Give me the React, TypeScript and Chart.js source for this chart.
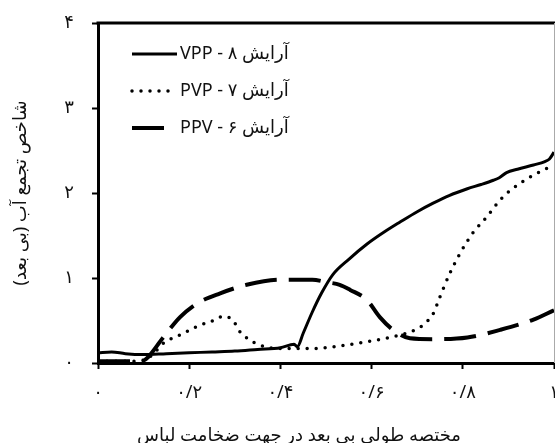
import React, { useEffect, useRef } from "react";
import { Chart, registerables } from "chart.js";

Chart.register(...registerables);

// ---- data ----
const vppX = [0, 0.03, 0.06, 0.1, 0.15, 0.2, 0.25, 0.3, 0.35, 0.4, 0.43, 0.437, 0.45, 0.47, 0.49, 0.515, 0.55, 0.59, 0.63, 0.66, 0.7, 0.735, 0.77, 0.81, 0.84, 0.867, 0.88, 0.896, 0.92, 0.955, 0.98, 0.99, 1.0];
const vppY = [0.12, 0.13, 0.11, 0.1, 0.11, 0.12, 0.13, 0.14, 0.16, 0.18, 0.22, 0.19, 0.35, 0.6, 0.82, 1.04, 1.22, 1.4, 1.55, 1.65, 1.78, 1.88, 1.97, 2.05, 2.1, 2.15, 2.18, 2.24, 2.28, 2.33, 2.37, 2.4, 2.48];

const pvpX = [0, 0.05, 0.1, 0.12, 0.143, 0.18, 0.217, 0.253, 0.275, 0.296, 0.311, 0.333, 0.355, 0.4, 0.47, 0.515, 0.59, 0.662, 0.7, 0.72, 0.735, 0.75, 0.772, 0.794, 0.822, 0.853, 0.882, 0.919, 0.955, 1.0];
const pvpY = [0.02, 0.02, 0.03, 0.1, 0.23, 0.33, 0.43, 0.5, 0.55, 0.5, 0.37, 0.27, 0.21, 0.17, 0.17, 0.19, 0.25, 0.33, 0.4, 0.48, 0.58, 0.78, 1.06, 1.29, 1.53, 1.72, 1.92, 2.09, 2.21, 2.33];

const ppvX = [0, 0.05, 0.1, 0.11, 0.143, 0.18, 0.217, 0.268, 0.326, 0.4, 0.47, 0.502, 0.53, 0.553, 0.59, 0.618, 0.647, 0.684, 0.735, 0.81, 0.882, 0.955, 1.0];
const ppvY = [0.02, 0.02, 0.03, 0.07, 0.3, 0.54, 0.7, 0.82, 0.92, 0.98, 0.98, 0.95, 0.92, 0.86, 0.74, 0.54, 0.39, 0.29, 0.28, 0.3, 0.39, 0.51, 0.62];

const seriesLabels = ["آرایش ۸ - VPP", "آرایش ۷ - PVP", "آرایش ۶ - PPV"];
const xTickLabels = ["۰", "۰/۲", "۰/۴", "۰/۶", "۰/۸", "۱"];
const yTickLabels = ["۰", "۱", "۲", "۳", "۴"];
const xTitle = "مختصه طولی بی بعد در جهت ضخامت لباس";
const yTitle = "شاخص تجمع آب (بی بعد)\u200F";

const FONT = "'Noto Sans', 'DejaVu Sans', sans-serif";
const INK = "#111";
const LONG_DASH = [32, 12];

const pts = (xs: number[], ys: number[]) => xs.map((x, i) => ({ x, y: ys[i] }));

const framePlugin = {
  id: "frameAndLegend",
  afterDraw(chart: any) {
    const { ctx, chartArea } = chart;
    ctx.save();
    // top border
    ctx.strokeStyle = "#000";
    ctx.lineWidth = 3;
    ctx.beginPath();
    ctx.moveTo(chartArea.left - 1.5, chartArea.top);
    ctx.lineTo(chart.width, chartArea.top);
    ctx.stroke();
    // right border
    ctx.strokeStyle = "#aaa";
    ctx.lineWidth = 1;
    ctx.beginPath();
    ctx.moveTo(chartArea.right + 0.5, chartArea.top);
    ctx.lineTo(chartArea.right + 0.5, chartArea.bottom);
    ctx.stroke();

    // legend inside plot
    const lx0 = chartArea.left + 34;
    const lx1 = chartArea.left + 79;
    chart.data.datasets.forEach((ds: any, i: number) => {
      const y = chartArea.top + 31 + i * 37;
      const dash: number[] = ds.borderDash || [];
      const end = dash.length && dash[0] > 10 ? lx0 + dash[0] : lx1;
      ctx.save();
      ctx.strokeStyle = ds.borderColor;
      ctx.lineWidth = ds.borderWidth;
      ctx.lineCap = ds.borderCapStyle || "butt";
      ctx.setLineDash(dash);
      ctx.beginPath();
      ctx.moveTo(lx0, y);
      ctx.lineTo(end, y);
      ctx.stroke();
      ctx.restore();
      ctx.fillStyle = INK;
      ctx.font = `18px ${FONT}`;
      ctx.textBaseline = "middle";
      (ctx as any).direction = "rtl";
      ctx.textAlign = "left";
      ctx.fillText(ds.label, lx1 + 3, y);
    });

    // x axis title
    ctx.fillStyle = INK;
    ctx.font = `18px ${FONT}`;
    (ctx as any).direction = "rtl";
    ctx.textAlign = "center";
    ctx.textBaseline = "middle";
    ctx.fillText(xTitle, 299, 436);
    ctx.restore();
  },
};

export default function App() {
  const ref = useRef<HTMLCanvasElement>(null);

  useEffect(() => {
    if (!ref.current) return;
    const chart = new Chart(ref.current, {
      type: "line",
      data: {
        datasets: [
          {
            label: seriesLabels[0],
            data: pts(vppX, vppY),
            borderColor: "#000",
            borderWidth: 3,
            pointRadius: 0,
            cubicInterpolationMode: "monotone",
          },
          {
            label: seriesLabels[1],
            data: pts(pvpX, pvpY),
            borderColor: "#000",
            borderWidth: 3.5,
            borderDash: [0, 9],
            borderCapStyle: "round",
            pointRadius: 0,
            cubicInterpolationMode: "monotone",
          },
          {
            label: seriesLabels[2],
            data: pts(ppvX, ppvY),
            borderColor: "#000",
            borderWidth: 4,
            borderDash: LONG_DASH,
            segment: { borderDash: () => LONG_DASH },
            pointRadius: 0,
            cubicInterpolationMode: "monotone",
          },
        ],
      },
      options: {
        responsive: false,
        animation: false,
        layout: { padding: { left: 6, top: 23, right: 1, bottom: 0 } },
        plugins: { legend: { display: false }, tooltip: { enabled: false } },
        scales: {
          x: {
            type: "linear",
            min: 0,
            max: 1,
            grid: { drawOnChartArea: false, drawTicks: true, tickLength: 6, tickWidth: 2, tickColor: "#000" },
            border: { display: true, width: 3, color: "#000" },
            ticks: {
              stepSize: 0.2,
              autoSkip: false,
              maxRotation: 0,
              padding: 13,
              color: INK,
              font: { family: FONT, size: 18 },
              callback: (_v: any, i: number) => xTickLabels[i],
            },
            title: { display: false },
            afterFit: (s: any) => {
              s.height = 80;
              s.paddingLeft = 0;
              s.paddingRight = 0;
            },
          },
          y: {
            type: "linear",
            min: 0,
            max: 4,
            grid: { drawOnChartArea: false, drawTicks: true, tickLength: 6, tickWidth: 2, tickColor: "#000" },
            border: { display: true, width: 3, color: "#000" },
            ticks: {
              stepSize: 1,
              autoSkip: false,
              padding: 18,
              color: INK,
              font: { family: FONT, size: 18 },
              callback: (_v: any, i: number) => yTickLabels[i],
            },
            title: {
              display: true,
              text: yTitle,
              color: INK,
              font: { family: FONT, size: 18 },
              padding: { top: 4, bottom: 0 },
            },
            afterFit: (s: any) => {
              s.width = 92;
              s.paddingTop = 0;
              s.paddingBottom = 0;
            },
          },
        },
      },
      plugins: [framePlugin],
    } as any);
    return () => chart.destroy();
  }, []);

  return (
    <div style={{ position: "fixed", left: 0, top: 0, width: 555, height: 443, background: "#fff" }}>
      <canvas ref={ref} width={555} height={443} style={{ width: 555, height: 443, display: "block" }} />
    </div>
  );
}
